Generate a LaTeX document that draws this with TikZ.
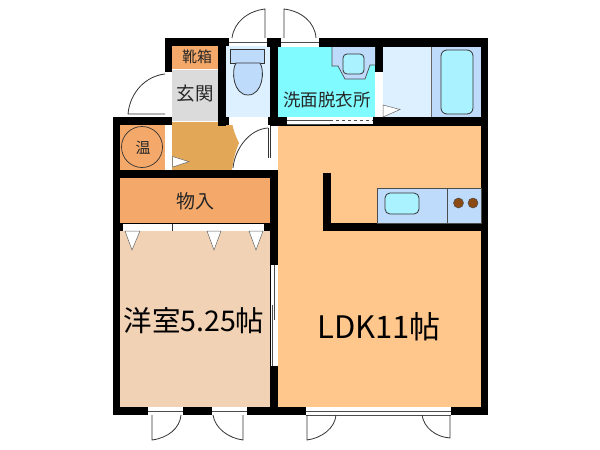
\documentclass[tikz,border=0pt]{standalone}
\usepackage{fontspec}
\setmainfont{Noto Sans CJK JP}
\definecolor{cLDK}{HTML}{FFC78C}
\definecolor{cRoom}{HTML}{F2D2B5}
\definecolor{cStore}{HTML}{F4A869}
\definecolor{cGray}{HTML}{DBDBDB}
\definecolor{cFloor}{HTML}{E3A857}
\definecolor{cWash}{HTML}{80FBFF}
\definecolor{cPale}{HTML}{DDF0FF}
\definecolor{cBlue}{HTML}{BFDBFB}
\definecolor{cWater}{HTML}{AAF2FF}
\definecolor{cBurner}{HTML}{8B4A14}
\tikzset{
  wall/.style={fill=black,draw=none},
  room/.style={draw=none},
  opening/.style={fill=white,draw=none},
  rail/.style={draw=black!70,line width=0.9pt},
  swing/.style={draw=black!80,line width=0.8pt},
  fixture/.style={draw=black!80,line width=0.8pt},
  doormark/.style={fill=white,draw=black!60,line width=0.5pt},
  roomtext/.style={inner sep=0pt,text=black!85}
}
\begin{document}
\begin{tikzpicture}[x=1pt,y=-1pt]
\useasboundingbox (0,0) rectangle (600,450);
% floors
\fill[cLDK,room] (278,124) rectangle (481,407);
\fill[cRoom,room] (120,231) rectangle (270,407);
\fill[cStore,room] (120,178) rectangle (270,224);
\fill[cStore,room] (120,125) rectangle (165,170);
\fill[cStore,room] (172,46) rectangle (218,69);
\fill[cGray,room] (172,70) rectangle (218,121);
\fill[white] (232,122) rectangle (278,170);
\fill[cFloor,room] (172,122) -- (232,122) .. controls (233,130) and (236,137) .. (239,143) .. controls (236,150) and (233,160) .. (232,170) -- (172,170) -- cycle;
\fill[cPale,room] (226,46) rectangle (270,117);
\fill[cWash,room] (278,47) rectangle (375,117);
\fill[cPale,room] (383,47) rectangle (431,117);
\fill[cBlue,room] (432,47) rectangle (481,117);
% walls
\fill[wall] (165,38) rectangle (229,46);
\fill[wall] (165,38) rectangle (172,72);
\fill[wall] (218,38) rectangle (226,126);
\fill[wall] (267,38) rectangle (281,47);
\fill[wall] (270,38) rectangle (278,126);
\fill[wall] (319,38) rectangle (488,47);
\fill[wall] (375,47) rectangle (383,72);
\fill[wall] (481,38) rectangle (488,415);
\fill[wall] (218,117) rectangle (286,125);
\fill[wall] (270,117) rectangle (488,126);
\fill[wall] (113,117) rectangle (172,125);
\fill[wall] (113,117) rectangle (120,415);
\fill[wall] (113,170) rectangle (278,178);
\fill[wall] (113,407) rectangle (488,415);
\fill[wall] (270,178) rectangle (278,408);
\fill[wall] (120,223) rectangle (270,231);
\fill[wall] (323,173) rectangle (331,231);
\fill[wall] (323,223) rectangle (481,231);
% plain openings
\fill[opening] (165,72) rectangle (172,117);
\fill[opening] (165,125) rectangle (172,170);
\fill[opening] (376,72) rectangle (383,117);
\fill[opening] (229,38) rectangle (267,46);
\fill[opening] (281,38) rectangle (319,47);
\fill[opening] (229,117) rectangle (268,125);
\fill[opening] (287,117) rectangle (373,124);
\fill[opening] (270,126) rectangle (278,170);
\fill[opening] (123,224) rectangle (264,231);
\fill[opening] (271,265) rectangle (278,366);
\fill[opening] (148,407) rectangle (183,415);
\fill[opening] (212,407) rectangle (247,415);
\fill[opening] (306,407) rectangle (451,415);
% sashes
\draw[rail] (229,42) -- (267,42);
\draw[rail] (281,42) -- (319,42);
\draw[rail] (148,411) -- (183,411);
\draw[rail] (212,411) -- (247,411);
\draw[rail] (306,411) -- (451,411);
\draw[rail] (306,415) -- (451,415);
\draw[rail] (287,120) -- (330,120);
\draw[rail,dashed] (330,120) -- (373,120);
\draw[rail] (287,124) -- (330,124);
\draw[rail] (274,265) -- (274,320);
\draw[rail] (272,305) -- (272,366);
\draw[swing] (172,224) -- (172,231);
\draw[swing] (270,126) -- (270,158);
% door leaves
\draw[swing] (265,38) -- (265,9) .. controls (248,11) and (234,22) .. (232,38);
\draw[swing] (284,38) -- (284,9) .. controls (301,11) and (315,22) .. (316,38);
\draw[swing] (165,114) -- (128,114) .. controls (130,92) and (146,76) .. (165,74);
\draw[swing] (152,415) -- (152,440) .. controls (168,438) and (180,428) .. (181,415);
\draw[swing] (243,415) -- (243,440) .. controls (228,438) and (215,428) .. (213,415);
\draw[swing] (307,415) -- (307,440) .. controls (322,438) and (335,428) .. (336,415);
\draw[swing] (450,415) -- (450,438) .. controls (436,437) and (424,428) .. (422,415);
\draw[swing] (268,128) .. controls (250,129) and (235,148) .. (233,168);
\draw[swing] (268,128) -- (268,158);
% door markers
\draw[doormark] (172.7,156.5) -- (189,161.7) -- (172.7,167) -- cycle;
\draw[doormark] (383,105) -- (400,109.5) -- (383,117) -- cycle;
\draw[doormark] (125,231) -- (140,231) -- (132,250) -- cycle;
\draw[doormark] (207,231) -- (221,231) -- (214,250) -- cycle;
\draw[doormark] (249,231) -- (263,231) -- (256,250) -- cycle;
% fixtures
\draw[fixture,fill=cBlue] (230.5,49) rectangle (264,63);
\draw[fixture,fill=cBlue] (236,63) .. controls (231,70) and (233,95) .. (248,95) .. controls (263,95) and (265,70) .. (260,63) -- cycle;
\fill[cBlue] (332,47) -- (375,47) -- (375,65) -- (370,65) -- (365,79) -- (345,79) -- (338,66) -- (332,66) -- cycle;
\draw[black!70,line width=0.7pt] (332,47) -- (332,66) -- (338,66) -- (345,79) -- (365,79) -- (370,65) -- (375,65);
\draw[fixture,fill=cWater,rounded corners=4pt] (343,54) rectangle (364,74);
\draw[black!60,line width=0.7pt] (431.5,47) -- (431.5,117);
\draw[fixture,fill=cWater,rounded corners=6pt] (441,50) rectangle (473,114);
\draw[black!70,line width=0.7pt,fill=cBlue] (377,223) -- (377,188) -- (481,188) -- (481,223) -- cycle;
\draw[black!70,line width=0.7pt] (447,188) -- (447,223);
\draw[fixture,fill=cWater,rounded corners=5pt] (385,193) rectangle (419,214);
\draw[black!70,fill=cBurner,line width=0.5pt] (458.5,203) circle (5);
\draw[black!70,fill=cBurner,line width=0.5pt] (473,203) circle (5);
\draw[draw=black!80,line width=0.7pt] (142,147) circle (20.5);
% labels
\node[roomtext,font=\fontsize{15}{15}\selectfont] (shoe) at (197,57) {靴箱};
\node[roomtext,font=\fontsize{18.5}{18.5}\selectfont] (entry) at (195,94) {玄関};
\node[roomtext,font=\fontsize{17.5}{17.5}\selectfont] (wash) at (327,100) {洗面脱衣所};
\node[roomtext,font=\fontsize{15}{15}\selectfont] (heater) at (143,148) {温};
\node[roomtext,font=\fontsize{19}{19}\selectfont] (closet) at (195,201) {物入};
\node[roomtext,text=black,font=\fontsize{28.5}{28.5}\selectfont] (western) at (194,321) {洋室5.25帖};
\node[roomtext,text=black,font=\fontsize{31}{31}\selectfont] (ldk) at (379,327) {LDK11帖};
\end{tikzpicture}
\end{document}
